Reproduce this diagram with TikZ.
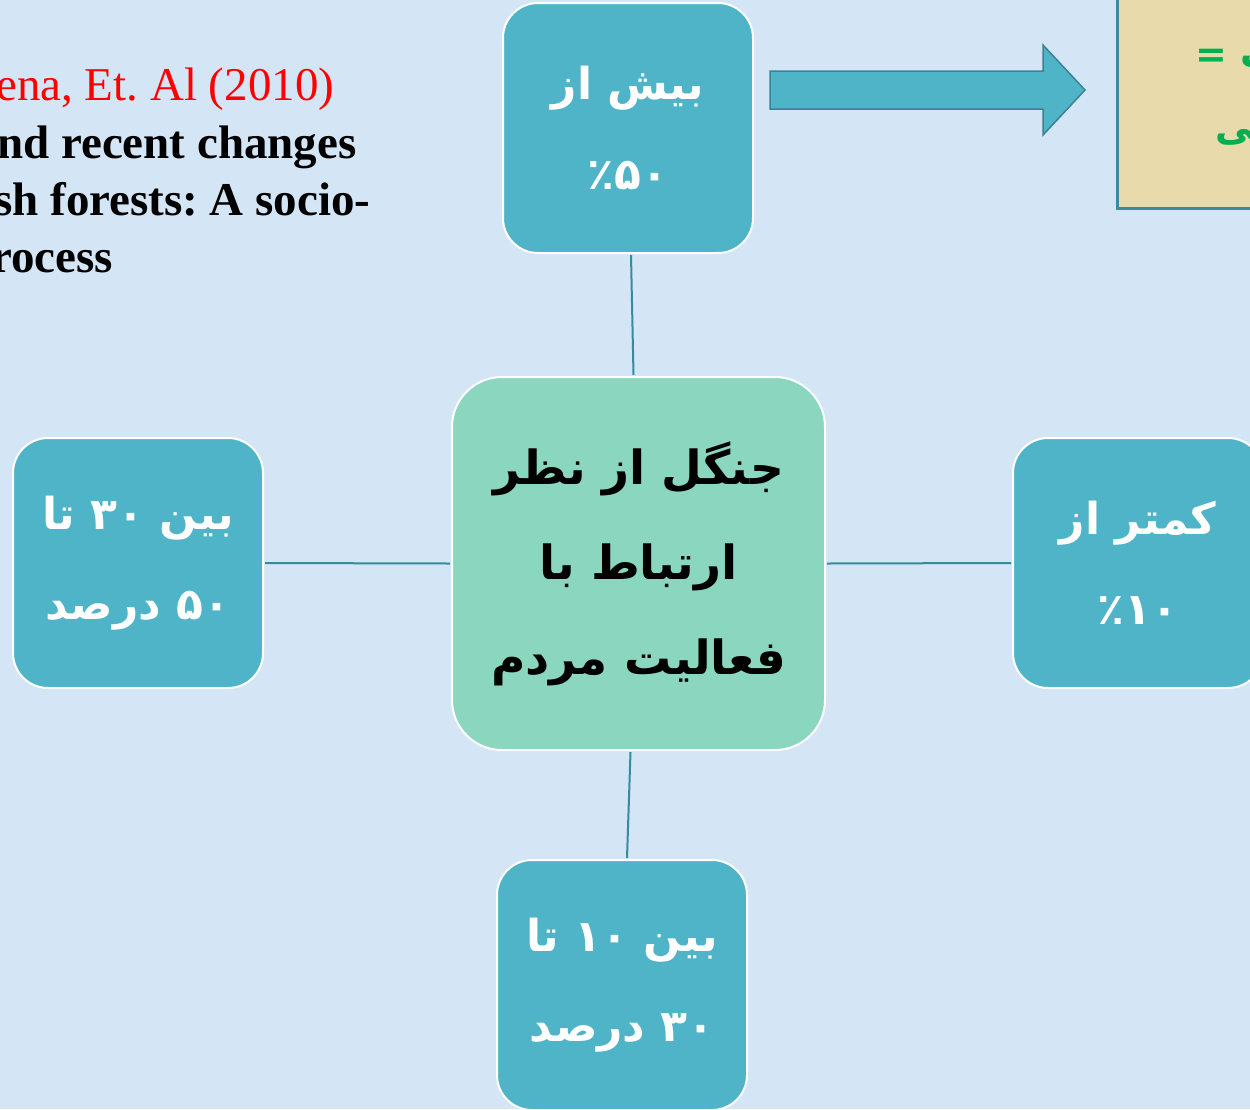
\documentclass[tikz,border=0pt]{standalone}
\usepackage{fontspec}
\setmainfont{Liberation Serif}
\newfontfamily\fa[Script=Arabic]{DejaVu Sans}
\TeXXeTstate=1
\frenchspacing
\usetikzlibrary{calc}
\definecolor{bgblue}{RGB}{212,229,245}
\definecolor{tealbox}{RGB}{79,180,200}
\definecolor{mint}{RGB}{138,214,190}
\definecolor{linecol}{RGB}{52,140,158}
\definecolor{tanfill}{RGB}{233,218,172}
\definecolor{tanborder}{RGB}{62,138,152}
\definecolor{arrowline}{RGB}{58,130,150}
\definecolor{fagreen}{RGB}{0,176,80}
\definecolor{refred}{RGB}{255,0,0}
\tikzset{
  smallbox/.style={draw=white, line width=2pt, fill=tealbox, rounded corners=35pt,
    minimum width=250pt, minimum height=250pt, inner sep=0pt, align=center,
    text=white, font=\fa\bfseries\fontsize{44}{90}\selectfont},
  bigbox/.style={draw=white, line width=2pt, fill=mint, rounded corners=50pt,
    minimum width=373pt, minimum height=373pt, inner sep=0pt, align=center,
    text=black, font=\fa\bfseries\fontsize{47}{95}\selectfont},
  conn/.style={draw=linecol, line width=2pt},
  blockarrow/.style={fill=tealbox, draw=arrowline, line width=1.5pt, line join=miter},
  tanbox/.style={fill=tanfill, draw=tanborder, line width=3pt, minimum width=300pt,
    minimum height=280pt, inner sep=0pt},
  reftext/.style={anchor=base west, inner sep=0pt, font=\fontsize{47}{57}\selectfont},
  refbold/.style={reftext, font=\bfseries\fontsize{47}{57}\selectfont},
  notetext/.style={anchor=west, inner sep=0pt, align=left, text=fagreen,
    font=\fa\bfseries\fontsize{38}{73}\selectfont}
}
\begin{document}
\begin{tikzpicture}[x=1pt,y=-1pt]
\useasboundingbox (0,0) rectangle (1250,1109);
\fill[bgblue] (0,0) rectangle (1250,1109);
\clip (0,0) rectangle (1250,1109);

% reference text (clipped at the left edge, as in the original)
\node[reftext, text=refred] (ref1) at (-4,100) {ena, Et. Al (2010)};
\node[refbold] (ref2) at (-3,158) {nd recent changes};
\node[refbold] (ref3) at (-6,215) {sh forests: A socio-};
\node[refbold] (ref4) at (-9,272) {rocess};

% note box at top right
\node[tanbox, anchor=north west] (note) at (1116,-73) {};
\node[notetext] (notetxt) at (1195,98) {\beginR مدیریت =\endR\\[0pt]\hspace*{20pt}\beginR طبیعی\endR};

% block arrow
\coordinate (arrowstart) at (770,90);
\draw[blockarrow] ($(arrowstart)+(0,-19)$) -- ++(273,0) -- ++(0,-26) -- ++(42,45)
  -- ++(-42,45) -- ++(0,-26) -- ++(-273,0) -- cycle;

% boxes
\node[bigbox] (center) at (638.5,563.5) {\beginR جنگل از نظر\endR\\\beginR ارتباط با\endR\\\beginR فعالیت مردم\endR};
\node[smallbox] (top) at (628,128) {\beginR بیش از\endR\\\beginR ٪۵۰\endR};
\node[smallbox] (left) at (138,563) {\beginR بین ۳۰ تا\endR\\\beginR ۵۰ درصد\endR};
\node[smallbox] (right) at (1138,563) {\beginR کمتر از\endR\\\beginR ٪۱۰\endR};
\node[smallbox] (bottom) at (622,985) {\beginR بین ۱۰ تا\endR\\\beginR ۳۰ درصد\endR};

% connectors
\draw[conn] ($(top.south)+(3,1)$) -- ($(center.north)+(-5,-1)$);
\draw[conn] ($(left.east)+(1,0)$) -- ($(center.west)+(-1,0)$);
\draw[conn] ($(center.east)+(1,0)$) -- ($(right.west)+(-1,0)$);
\draw[conn] ($(center.south)+(-8,1)$) -- ($(bottom.north)+(5,-1)$);
\end{tikzpicture}
\end{document}
